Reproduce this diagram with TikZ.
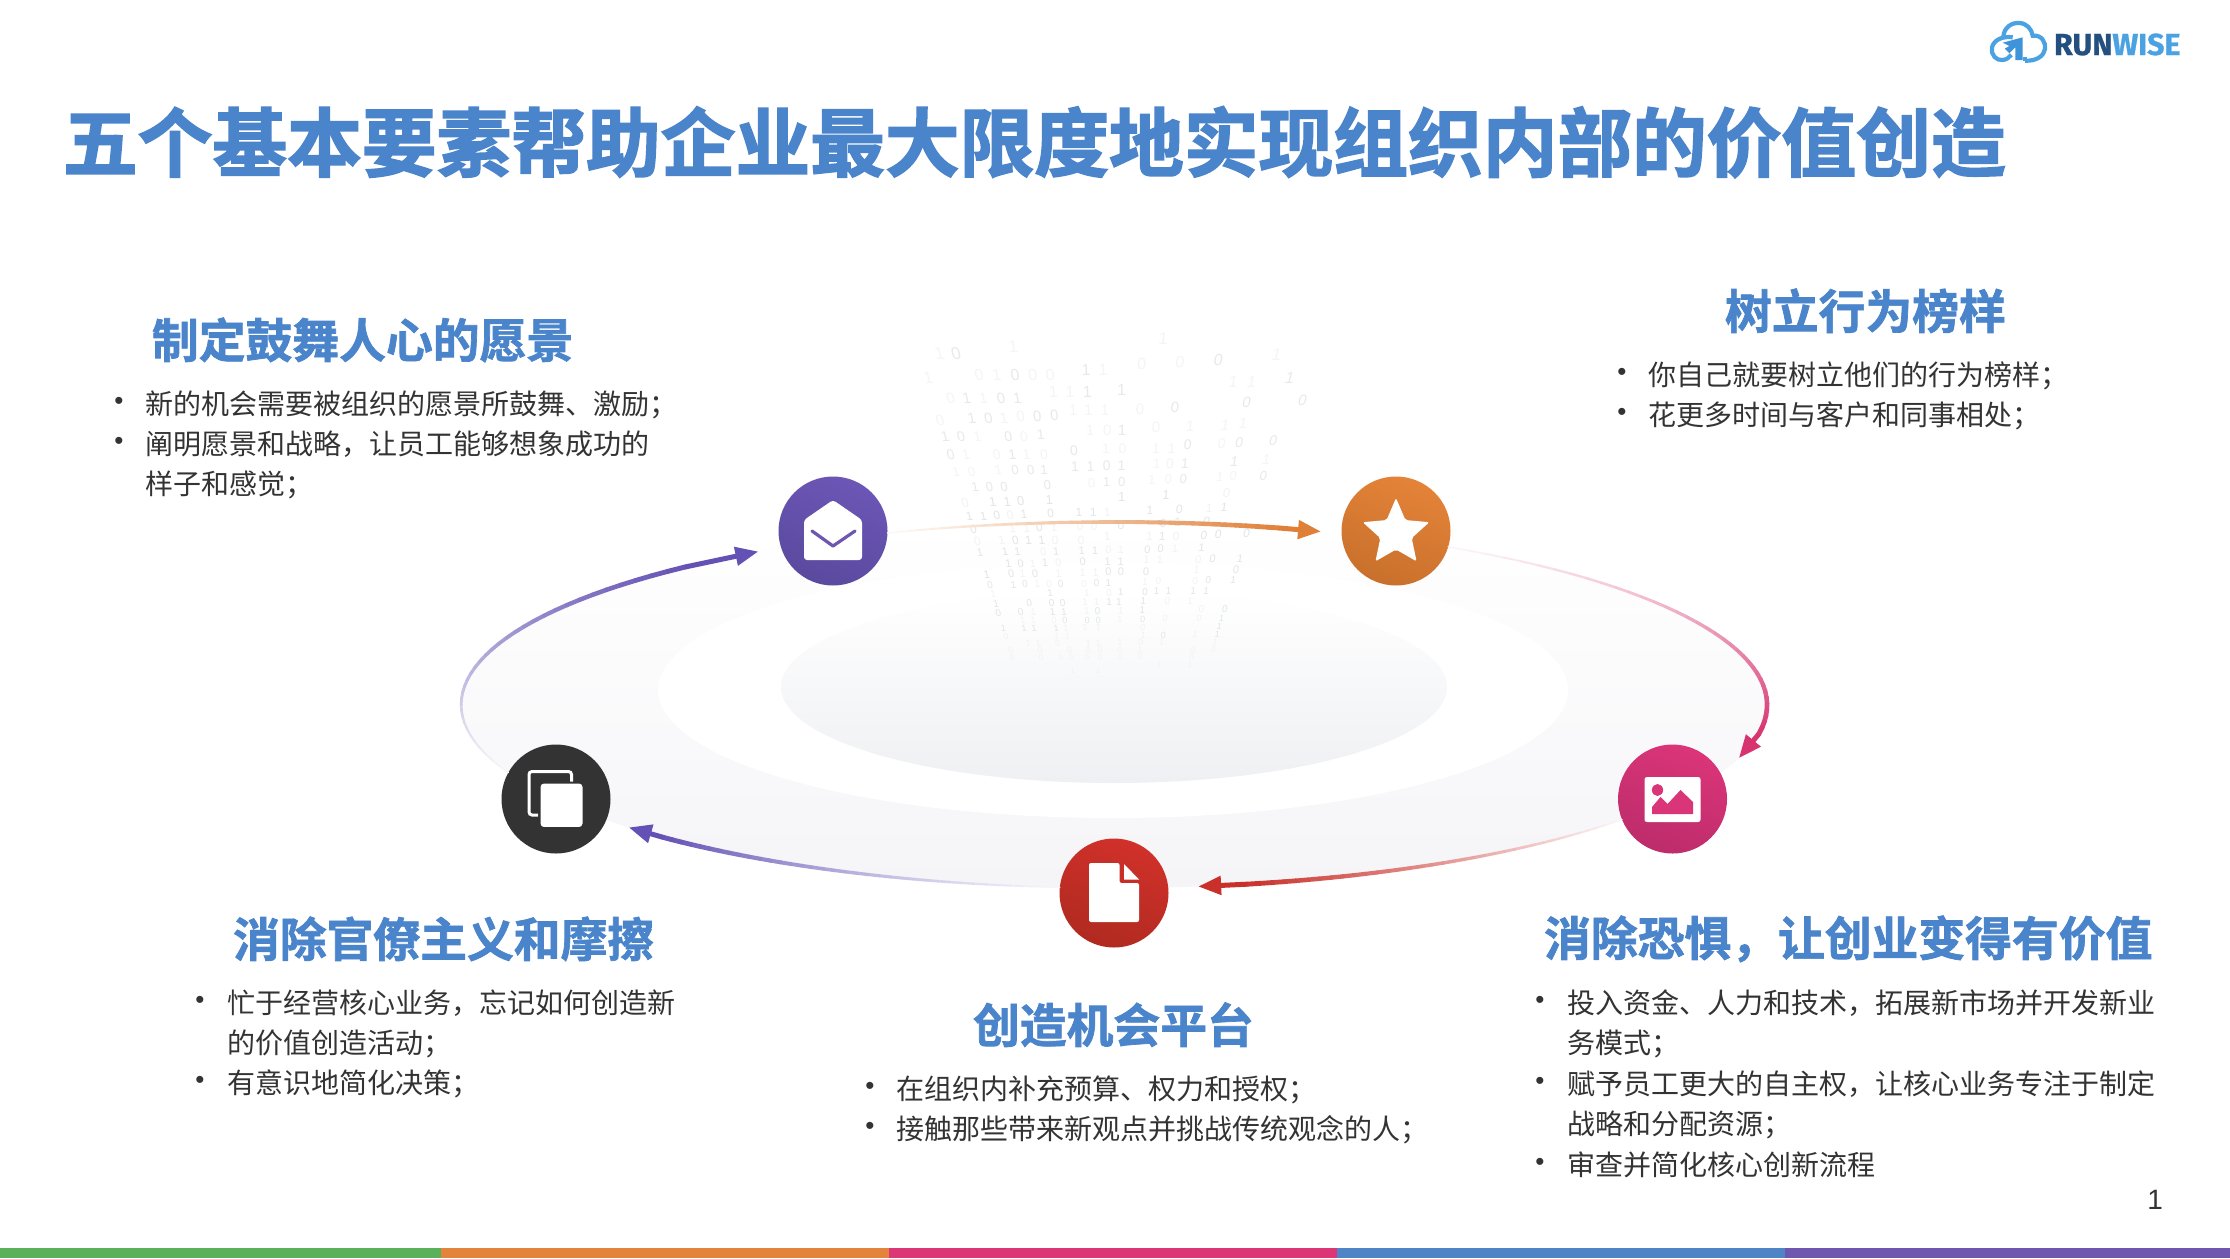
\documentclass[tikz,border=0pt]{standalone}
\usepackage{fontspec}
\usetikzlibrary{arrows.meta}
\setmainfont{Noto Sans CJK SC}
\newfontfamily\headfont[FakeBold=1.5]{Noto Sans CJK SC Bold}
\newfontfamily\titlefont[FakeBold=2.1]{Noto Sans CJK SC Bold}
\newfontfamily\bitfont{Liberation Sans}
\newfontfamily\logofont[FakeBold=0.8]{Fira Sans Bold}
\definecolor{titleblue}{HTML}{4A84CB}
\definecolor{bodygray}{HTML}{333333}
\definecolor{barA}{HTML}{5BB05A}
\definecolor{barB}{HTML}{E3833C}
\definecolor{barC}{HTML}{DC3677}
\definecolor{barD}{HTML}{4F84C6}
\definecolor{barE}{HTML}{6F57B0}
\definecolor{arcorange}{HTML}{DF8038}
\definecolor{arcpink}{HTML}{D6336F}
\definecolor{arcred}{HTML}{C9302A}
\definecolor{arcpurple}{HTML}{6451B5}
\definecolor{upn}{HTML}{E8E9EB}
\definecolor{upf}{HTML}{F5F5F6}
\definecolor{lown}{HTML}{E4E5E7}
\definecolor{lowf}{HTML}{F3F3F5}
\definecolor{darkdisc}{HTML}{333333}
\definecolor{logolight}{HTML}{4BA2E2}
\definecolor{logomid}{HTML}{3F93D8}
\definecolor{logodark}{HTML}{23507F}
\definecolor{ringlow}{HTML}{F5F5F8}
\definecolor{ringmid}{HTML}{FDFDFE}
\definecolor{poollow}{HTML}{EFF0F3}
\definecolor{poolmid}{HTML}{FAFAFB}
\definecolor{discAa}{HTML}{6C56B6}
\definecolor{discAb}{HTML}{5A4A9E}
\definecolor{discBa}{HTML}{E48338}
\definecolor{discBb}{HTML}{C8702C}
\definecolor{discCa}{HTML}{DA3578}
\definecolor{discCb}{HTML}{BD2C6B}
\definecolor{discDa}{HTML}{D0312A}
\definecolor{discDb}{HTML}{B02A20}
\tikzset{
  anytext/.style={inner sep=0pt,outer sep=0pt,anchor=base west},
  titletext/.style={anytext,text=titleblue,xshift=-0.5pt,yshift=-0.6pt,font=\titlefont\fontsize{37.36pt}{40pt}\selectfont},
  headtext/.style={anytext,text=titleblue,xshift=0.5pt,yshift=-0.4pt,font=\headfont\fontsize{23.4pt}{26pt}\selectfont},
  bodytext/.style={anytext,text=bodygray,xshift=0.5pt,yshift=-0.7pt,font=\fontsize{14pt}{18pt}\selectfont},
  bulletmark/.style={inner sep=0pt,outer sep=0pt,anchor=center,text=bodygray,font=\bitfont\fontsize{13pt}{14pt}\selectfont},
  disc/.style={circle,minimum size=54.5pt,inner sep=0pt,outer sep=0pt},
  shadeddisc/.style={disc,left color=#1a,right color=#1b,shading angle=-20},
  bitdigit/.style={inner sep=0pt,outer sep=0pt,anchor=center,transform shape},
  icon/.style={fill=white,draw=none},
  logostroke/.style={draw=logolight,line width=2.1pt,line cap=butt},
}
% one digit of the binary rain, positions as read from a crop
\newcommand{\putbit}[6]{%
  \pgfmathsetmacro\bx{#1+#3/3}%
  \pgfmathsetmacro\by{#2+#4/3}%
  \pgfmathsetmacro\bs{max(4,round(2*(8.5-(\by-340)*0.0136))/2)}%
  \pgfmathsetmacro\bsl{(\bx-1114)/700}%
  \node[bitdigit,text=#6,xslant=\bsl,font=\bitfont\fontsize{\bs pt}{\bs pt}\selectfont] (bit-#1-#3-#4) at (\bx,\by) {#5};%
}
% gradient connector along the big ellipse: name, start, end, from angle, to angle, colour
\newcommand{\gradconn}[6]{%
  \pgfmathsetmacro\ka{4/3*tan((#5-(#4))/4)}%
  \pgfmathsetmacro\cax{1114+653*cos(#4)-\ka*653*sin(#4)}%
  \pgfmathsetmacro\cay{705-183*sin(#4)-\ka*183*cos(#4)}%
  \pgfmathsetmacro\cbx{1114+653*cos(#5)+\ka*653*sin(#5)}%
  \pgfmathsetmacro\cby{705-183*sin(#5)+\ka*183*cos(#5)}%
  \coordinate (#1c1) at (\cax,\cay);%
  \coordinate (#1c2) at (\cbx,\cby);%
  \path (#2) .. controls (#1c1) and (#1c2) .. (#3)
    \foreach \i in {0,...,40} { coordinate[pos=\i/40] (#1p\i) };%
  \foreach \i in {0,...,35} {%
    \pgfmathtruncatemacro\j{\i+1}%
    \pgfmathsetmacro\ff{\i/36}%
    \pgfmathsetmacro\mixv{6+94*\ff^1.15}%
    \pgfmathsetmacro\wid{0.7+1.8*\ff^0.8}%
    \draw[color=#6!\mixv!white,line width=\wid pt,line cap=round] (#1p\i) -- (#1p\j);%
  }%
  \draw[color=#6,line width=2.5pt,-{Triangle[length=11.5pt,width=9pt]}] (#1p36) -- (#3);%
}
\begin{document}
\begin{tikzpicture}[x=0.5pt,y=-0.5pt]
\useasboundingbox (0,0) rectangle (2230,1258);
\fill[white] (0,0) rectangle (2230,1258);

% floor rings
\shade[top color=white,middle color=ringmid,bottom color=ringlow] (1114,705) ellipse (326.5pt and 91.5pt);
\fill[white] (1113,690) ellipse (227.5pt and 64pt);
\shade[top color=white,middle color=poolmid,bottom color=poollow] (1114,687) ellipse (166.5pt and 48pt);

% binary rain
\foreach \x/\y/\d/\g in {
118/100/1/f,168/100/0/n,340/80/1/f,790/55/1/f,725/133/0/f,840/125/0/f,955/120/0/n,1130/105/1/f,
85/175/1/f,237/165/0/f,290/165/1/f,345/165/0/n,398/165/0/f,450/165/0/f,558/150/1/n,610/150/1/f,
152/235/0/f,200/235/1/n,250/235/1/f,303/235/0/n,352/235/1/n,460/215/1/f,510/215/1/f,562/215/1/n,665/210/1/n,1000/185/1/f,1055/185/1/f,1170/175/1/n,1040/248/0/n,1208/240/0/n,
120/300/0/f,215/295/1/n,265/295/0/n,312/295/1/f,362/288/0/f,412/288/0/n,463/285/0/n,520/270/1/f,565/270/1/f,615/270/1/f,720/268/0/f,825/262/0/n,
135/350/1/n,183/350/0/n,232/350/1/f,325/350/0/n,372/350/0/f,422/345/1/n,570/330/1/f,622/330/0/f,666/330/1/n,768/322/0/f,870/320/1/f,975/315/1/f,1030/310/1/f,
152/405/0/n,198/405/1/f,290/405/0/f,337/405/1/n,380/405/1/f,432/405/0/f,522/392/0/n,618/385/1/f,668/385/0/f,768/385/1/f,815/385/1/f,863/375/0/n,965/370/0/f,1018/368/0/n,1120/362/0/n,
168/455/1/f,215/455/0/f,295/450/1/f,345/450/0/n,392/450/0/n,432/450/1/n,525/440/1/n,572/440/1/n,620/437/0/n,665/437/1/n,770/430/1/f,810/430/0/f,855/430/1/n,1003/425/1/n,1100/420/1/f,
225/500/1/n,268/500/0/n,312/500/0/n,442/495/0/n,575/490/0/f,620/487/1/n,665/487/0/n,755/480/1/f,805/478/0/f,850/478/0/n,960/470/1/f,1000/468/0/f,1090/467/0/n}
  {\putbit{900}{320}{\x}{\y}{\d}{up\g}}
\foreach \x/\y/\d/\g in {
105/38/0/f,188/35/1/n,232/35/1/n,272/32/0/n,358/30/1/n,575/20/1/n,708/15/1/n,890/10/0/f,
118/78/1/n,160/78/1/n,200/75/0/n,240/75/0/f,282/72/1/n,362/70/0/n,447/68/1/n,490/68/1/n,532/68/1/f,660/60/1/n,748/58/0/n,838/55/1/f,882/52/1/n,
130/118/0/n,248/115/1/f,290/115/1/f,328/112/0/n,372/112/1/f,450/110/0/f,492/110/0/f,573/105/0/n,700/100/0/n,743/98/1/n,830/95/0/n,
142/155/0/f,215/152/1/f,256/150/0/n,295/150/1/n,335/150/1/n,375/150/0/f,453/150/0/f,532/140/1/f,658/138/1/f,697/138/1/n,738/138/0/f,822/135/0/n,865/132/0/n,950/130/0/n,
150/188/1/n,225/185/1/n,262/185/1/n,340/185/0/f,378/185/1/n,455/182/1/n,495/182/1/n,535/180/0/f,573/180/1/f,652/178/0/n,692/177/0/n,735/175/1/f,815/172/1/n,
235/220/1/n,272/220/0/n,308/220/1/f,345/218/1/n,385/218/0/f,458/215/0/n,533/214/1/n,572/214/1/n,650/210/1/f,690/210/1/f,805/208/0/f,848/206/0/n,930/205/1/n,
170/255/1/n,243/252/0/n,277/252/1/f,315/252/0/n,385/250/1/f,458/248/1/f,497/248/1/f,535/246/0/n,573/246/0/n,648/244/0/n,800/240/1/f,918/238/0/n,
180/285/0/n,250/284/1/n,285/283/0/n,322/283/1/f,357/283/0/f,392/282/0/n,462/281/0/f,500/280/0/n,535/279/1/n,645/276/1/f,685/272/0/f,795/272/0/f,835/271/0/n,910/270/1/n,
190/312/1/f,360/310/1/n,470/308/1/f,537/308/0/f,572/307/1/n,645/305/0/n,680/304/1/n,715/304/1/n,790/302/1/n,828/302/1/n,
198/342/1/n,298/340/0/n,365/339/0/n,398/338/0/n,465/337/1/f,500/336/1/f,537/335/1/n,567/335/1/n,640/332/1/n,712/332/0/f,780/332/1/f,
205/368/0/n,272/366/0/n,310/366/1/f,368/365/1/n,402/365/1/n,470/364/1/f,503/363/0/n,572/362/1/f,637/360/1/n,815/358/0/f,885/358/0/n,
278/392/1/f,310/392/1/f,372/390/0/f,405/390/0/n,472/390/0/n,505/390/0/n,570/388/1/f,638/387/0/n,705/386/0/f,808/385/0/f,875/384/1/n,
220/415/1/n,282/415/1/n,312/415/1/n,378/414/1/n,408/414/1/f,465/413/1/f,505/413/1/f,638/412/0/f,868/410/1/n,
228/440/0/f,380/438/1/f,412/438/1/f,640/436/1/f,700/435/0/n,795/434/1/f,862/432/1/n,
295/460/1/f,325/460/1/f,383/460/0/f,475/460/1/f,505/460/1/f,570/458/1/f,632/458/0/f,695/458/1/f,855/456/1/f,
243/482/0/f,330/482/0/f,418/482/0/f,475/482/0/f,510/482/0/f,570/482/0/f,630/480/1/f,788/480/0/f,850/478/0/f,
245/502/0/f,333/502/0/f,393/502/0/f,425/502/0/f,470/502/0/f,510/502/0/f,570/502/0/f,630/500/0/f,785/500/0/f,
688/525/1/f,780/523/1/f,428/543/1/f,505/543/1/f}
  {\putbit{930}{490}{\x}{\y}{\d}{low\g}}

% stage discs
\node[shadeddisc=discA] (envelopeDisc) at (833,531) {};
\node[shadeddisc=discB] (starDisc) at (1396,531) {};
\node[shadeddisc=discC] (imageDisc) at (1672.5,799) {};
\node[shadeddisc=discD] (fileDisc) at (1114,893) {};
\node[disc,fill=darkdisc] (copyDisc) at (556,799) {};

% connectors
\coordinate (tipA) at (1321,531.5);
\coordinate (tipB) at (1738.8,758.2);
\coordinate (tipC) at (1198.1,886.5);
\coordinate (tipD) at (628.7,827.4);
\coordinate (tipE) at (758.4,551.5);
\gradconn{connA}{envelopeDisc.-2.4}{tipA}{110.2}{71.5}{arcorange}
\gradconn{connB}{starDisc.-17.4}{tipB}{59.3}{-16.9}{arcpink}
\gradconn{connC}{imageDisc.202.4}{tipC}{-39}{-82.6}{arcred}
\gradconn{connD}{fileDisc.174.2}{tipD}{-94.8}{-138}{arcpurple}
\gradconn{connE}{copyDisc.151.6}{tipE}{201.8}{123}{arcpurple}

% envelope icon
\begin{scope}[shift={(833,531)}]
  \fill[icon,rounded corners=1.5pt] (-29,29) -- (-29,-11) -- (0,-31) -- (29,-11) -- (29,29) -- cycle;
  \draw[barE,line width=1.6pt,line cap=round,line join=round] (-21,0) -- (0,15) -- (22,0);
\end{scope}
% star icon
\begin{scope}[shift={(1396,533)}]
  \fill[icon,rounded corners=1pt] (-90:35) -- (-54:16) -- (-18:35) -- (18:16.5) -- (54:35) -- (90:16.5) -- (126:35) -- (162:16.5) -- (198:35) -- (234:16) -- cycle;
\end{scope}
% picture icon
\begin{scope}[shift={(1672.5,799)}]
  \fill[icon,rounded corners=1.2pt] (-28,-22) rectangle (28,23);
  \fill[discCa] (-15,-9) ellipse (2.8pt and 3pt);
  \fill[discCa] (-20.5,15) -- (-20.5,8) -- (-12,-2) -- (-5,5) -- (8,-9) -- (20.5,3) -- (20.5,15) -- cycle;
\end{scope}
% file icon
\begin{scope}[shift={(1114,893)}]
  \fill[icon,rounded corners=1pt] (-25,-30) -- (5.5,-30) -- (5.5,-10) -- (25,-10) -- (25,29) -- (-25,29) -- cycle;
  \fill[icon] (10,-29) -- (25,-13.5) -- (10,-13.5) -- cycle;
\end{scope}
% copy icon
\begin{scope}[shift={(556,799)}]
  \draw[white,line width=1.5pt,rounded corners=1.5pt] (-18,16) -- (-27,16) -- (-27,-27.5) -- (15.5,-27.5) -- (15.5,-16);
  \fill[white,draw=darkdisc,line width=1pt,rounded corners=2pt] (-16.5,-16.5) rectangle (27.5,29);
\end{scope}

% title and blocks
\node[titletext] (title) at (64,169.5) {五个基本要素帮助企业最大限度地实现组织内部的价值创造};

\node[headtext] (headVision) at (151,357) {制定鼓舞人心的愿景};
\node[bulletmark] (bulA1) at (119,403) {•};
\node[bodytext] (txtA1) at (144,413) {新的机会需要被组织的愿景所鼓舞、激励；};
\node[bulletmark] (bulA2) at (119,443) {•};
\node[bodytext] (txtA2) at (144,453) {阐明愿景和战略，让员工能够想象成功的};
\node[bodytext] (txtA3) at (144,493) {样子和感觉；};

\node[headtext] (headModel) at (1724,328) {树立行为榜样};
\node[bulletmark] (bulB1) at (1622,374) {•};
\node[bodytext] (txtB1) at (1647,384) {你自己就要树立他们的行为榜样；};
\node[bulletmark] (bulB2) at (1622,414) {•};
\node[bodytext] (txtB2) at (1647,424) {花更多时间与客户和同事相处；};

\node[headtext] (headBureau) at (232,956) {消除官僚主义和摩擦};
\node[bulletmark] (bulC1) at (200,1002.5) {•};
\node[bodytext] (txtC1) at (226,1012.5) {忙于经营核心业务，忘记如何创造新};
\node[bodytext] (txtC2) at (226,1052.5) {的价值创造活动；};
\node[bulletmark] (bulC2) at (200,1082.5) {•};
\node[bodytext] (txtC3) at (226,1092.5) {有意识地简化决策；};

\node[headtext] (headPlatform) at (972,1042) {创造机会平台};
\node[bulletmark] (bulD1) at (870,1088) {•};
\node[bodytext] (txtD1) at (895,1098) {在组织内补充预算、权力和授权；};
\node[bulletmark] (bulD2) at (870,1128) {•};
\node[bodytext] (txtD2) at (895,1138) {接触那些带来新观点并挑战传统观念的人；};

\node[headtext] (headFear) at (1543,955) {消除恐惧，让创业变得有价值};
\node[bulletmark] (bulE1) at (1540,1002) {•};
\node[bodytext] (txtE1) at (1566,1012) {投入资金、人力和技术，拓展新市场并开发新业};
\node[bodytext] (txtE2) at (1566,1052) {务模式；};
\node[bulletmark] (bulE2) at (1540,1083) {•};
\node[bodytext] (txtE3) at (1566,1093) {赋予员工更大的自主权，让核心业务专注于制定};
\node[bodytext] (txtE4) at (1566,1133) {战略和分配资源；};
\node[bulletmark] (bulE3) at (1540,1164) {•};
\node[bodytext] (txtE5) at (1566,1174) {审查并简化核心创新流程};

\node[anytext,text=bodygray,font=\bitfont\fontsize{14pt}{16pt}\selectfont,anchor=base] (pageNo) at (2155,1209) {1};

% logo
\begin{scope}[shift={(1980,14)},x=0.1667pt,y=-0.1667pt]
  \draw[logostroke] (98,70) .. controls (72,66) and (42,75) .. (36,100) .. controls (32,125) and (50,140) .. (68,138) .. controls (80,137) and (88,130) .. (94,122);
  \draw[logostroke] (70,68) .. controls (72,40) and (95,25) .. (118,27) .. controls (140,28) and (155,45) .. (158,65) .. controls (185,62) and (198,85) .. (195,105) .. controls (192,125) and (170,142) .. (135,140);
  \draw[logostroke] (135,128) -- (135,140);
  \fill[logomid] (68,86) -- (128,70) -- (128,138) -- (106,138) -- (106,100) -- (88,118) -- (74,104) -- (88,96) -- cycle;
\end{scope}
\node[anytext,font=\logofont\fontsize{15.2pt}{18pt}\selectfont] (logoText) at (2054,55) {\textcolor{logodark}{RUN}\textcolor{logolight}{WISE}};

% colour bar
\fill[barA] (0,1248) rectangle (441,1258);
\fill[barB] (441,1248) rectangle (888.5,1258);
\fill[barC] (888.5,1248) rectangle (1337,1258);
\fill[barD] (1337,1248) rectangle (1785,1258);
\fill[barE] (1785,1248) rectangle (2230,1258);
\end{tikzpicture}
\end{document}
